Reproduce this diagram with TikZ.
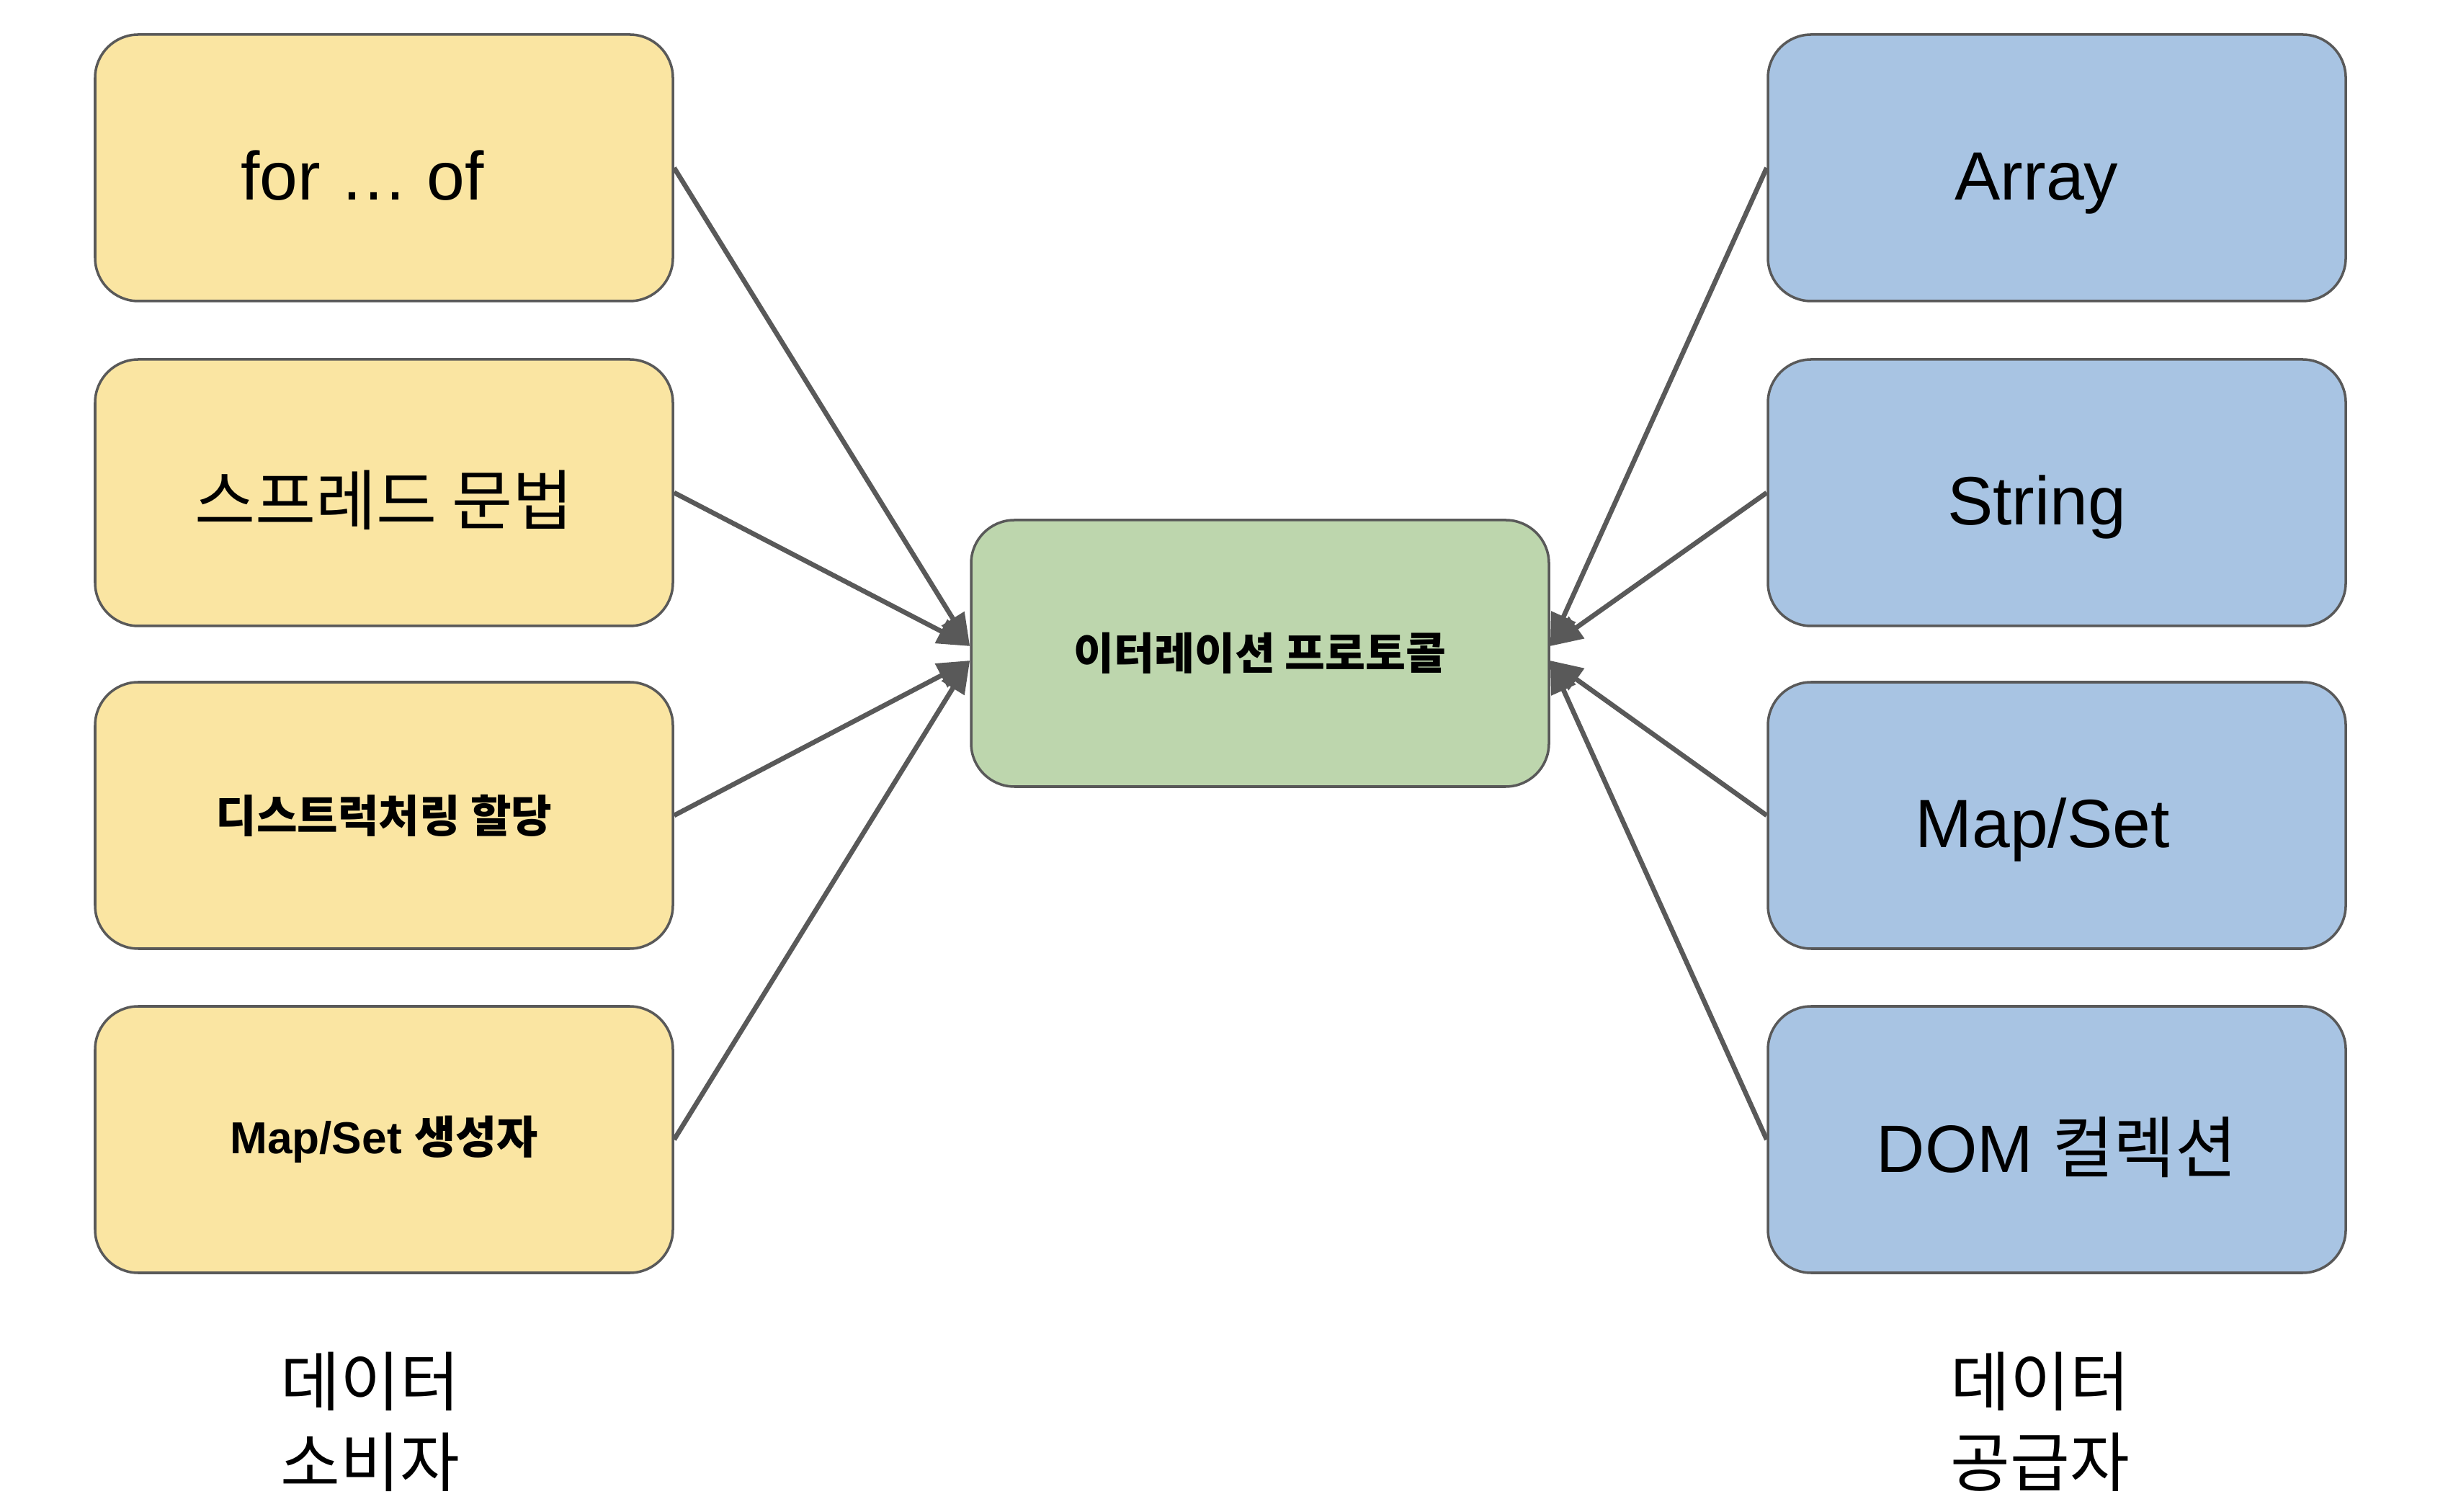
\documentclass[tikz,border=0pt]{standalone}
\usepackage{fontspec}
\setmainfont{Liberation Sans}
\newfontfamily\kr{Noto Sans CJK KR}
\usepackage{tikz}
\usetikzlibrary{arrows.meta}
\definecolor{consumer}{HTML}{FAE5A2}
\definecolor{protocol}{HTML}{BDD6AD}
\definecolor{supplier}{HTML}{A8C4E3}
\definecolor{edge}{HTML}{595959}
\tikzset{
  box/.style={draw=edge, line width=1pt, rounded corners=0.6cm,
    minimum width=8.02cm, minimum height=3.70cm, align=center},
  bigtext/.style={text height=0.9cm, text depth=0pt},
  feed/.style={draw=edge, line width=1.9pt,
    -{Triangle[length=0.45cm,width=0.36cm]}}
}

\begin{document}
\begin{tikzpicture}
\useasboundingbox (0,0) rectangle (33.98,20.98);
% consumers
\node [box, bigtext, fill=consumer] (forof) at (5.33,18.65) {\fontsize{27}{32}\selectfont for \dots\ of\hspace*{0.6cm}};
\node [box, bigtext, fill=consumer] (spread) at (5.33,14.14) {\fontsize{26}{30}\selectfont\kr 스프레드 문법};
\node [box, fill=consumer] (destr) at (5.33,9.66) {\fontsize{17.5}{20}\selectfont\kr\bfseries 디스트럭처링 할당};
\node [box, fill=consumer] (ctor) at (5.33,5.16) {\fontsize{17.7}{20}\selectfont\bfseries Map/Set {\kr 생성자}};
% protocol
\node [box, fill=protocol] (iter) at (17.49,11.91) {\fontsize{17.3}{20}\selectfont\kr\bfseries 이터레이션 프로토콜};
% suppliers
\node [box, bigtext, fill=supplier] (array) at (28.55,18.65) {\fontsize{27}{32}\selectfont Array\hspace*{0.56cm}};
\node [box, bigtext, fill=supplier] (string) at (28.55,14.14) {\fontsize{27}{32}\selectfont String\hspace*{0.56cm}};
\node [box, bigtext, fill=supplier] (mapset) at (28.55,9.66) {\fontsize{27}{32}\selectfont Map/Set\hspace*{0.4cm}};
\node [box, bigtext, fill=supplier] (dom) at (28.55,5.16) {\fontsize{26.5}{32}\selectfont DOM {\kr 컬렉션}};
% captions
\node [align=center, font=\kr\fontsize{25.6}{31.8}\selectfont] (consumers) at (5.14,1.24) {데이터\\소비자};
\node [align=center, font=\kr\fontsize{25.6}{31.8}\selectfont] (suppliers) at (28.32,1.24) {데이터\\공급자};
% arrows
\draw [feed] (forof.east) -- ([yshift=0.1cm]iter.west);
\draw [feed] (spread.east) -- ([yshift=0.1cm]iter.west);
\draw [feed] (destr.east) -- ([yshift=-0.1cm]iter.west);
\draw [feed] (ctor.east) -- ([yshift=-0.1cm]iter.west);
\draw [feed] (array.west) -- ([yshift=0.1cm]iter.east);
\draw [feed] (string.west) -- ([yshift=0.1cm]iter.east);
\draw [feed] (mapset.west) -- ([yshift=-0.1cm]iter.east);
\draw [feed] (dom.west) -- ([yshift=-0.1cm]iter.east);
\end{tikzpicture}
\end{document}
